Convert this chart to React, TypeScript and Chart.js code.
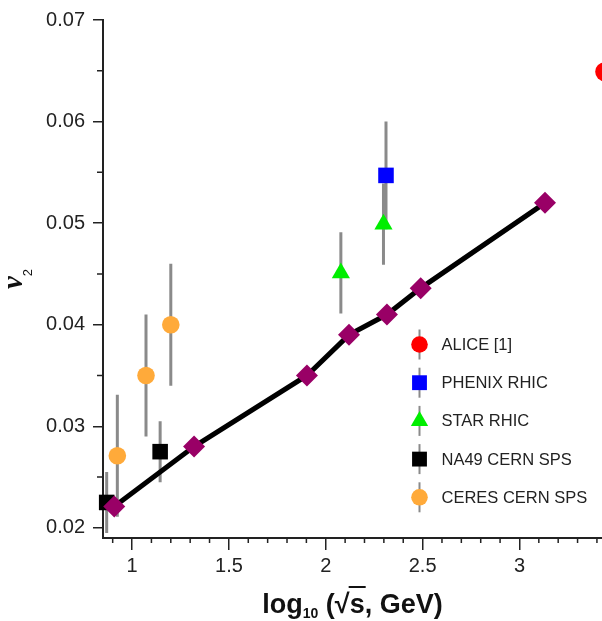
import React, { useEffect, useRef } from "react";
import { Chart, registerables } from "chart.js";

Chart.register(...registerables);

// ---- data ----
const theoryX = [0.908, 1.32, 1.903, 2.12, 2.316, 2.49, 3.132];
const theoryY = [0.0221, 0.028, 0.035, 0.039, 0.041, 0.0436, 0.052];

const aliceX = [3.44];
const aliceY = [0.0649];
const aliceErr = [0];

const phenixX = [2.311];
const phenixY = [0.0547];
const phenixErr = [0.0053];

const starX = [2.078, 2.298];
const starY = [0.0451, 0.0499];
const starErr = [0.004, 0.004];

const na49X = [0.869, 1.145];
const na49Y = [0.0225, 0.0275];
const na49Err = [0.003, 0.003];

const ceresX = [0.924, 1.072, 1.2];
const ceresY = [0.0271, 0.035, 0.04];
const ceresErr = [0.006, 0.006, 0.006];

const xTicks = [1, 1.5, 2, 2.5, 3];
const yTicks = [0.02, 0.03, 0.04, 0.05, 0.06, 0.07];
const xMinor = [0.9, 1.1, 1.2, 1.3, 1.4, 1.6, 1.7, 1.8, 1.9, 2.1, 2.2, 2.3, 2.4, 2.6, 2.7, 2.8, 2.9, 3.1, 3.2, 3.3, 3.4];
const yMinor = [0.025, 0.035, 0.045, 0.055, 0.065];

const legendLabels = ["ALICE [1]", "PHENIX RHIC", "STAR RHIC", "NA49 CERN SPS", "CERES CERN SPS"];

const FONT = "'Liberation Sans', Arial, Helvetica, sans-serif";
const ERR_COLOR = "#8a8a8a";

const toPts = (xs: number[], ys: number[]) => xs.map((x, i) => ({ x, y: ys[i] }));

type Series = { label: string; style: string; radius: number; color: string; xs: number[]; ys: number[]; errs: number[] };
const series: Series[] = [
  { label: legendLabels[0], style: "circle", radius: 9.5, color: "#ff0000", xs: aliceX, ys: aliceY, errs: aliceErr },
  { label: legendLabels[1], style: "rect", radius: 11, color: "#0000ff", xs: phenixX, ys: phenixY, errs: phenixErr },
  { label: legendLabels[2], style: "triangle", radius: 10.5, color: "#00ee00", xs: starX, ys: starY, errs: starErr },
  { label: legendLabels[3], style: "rect", radius: 11, color: "#000000", xs: na49X, ys: na49Y, errs: na49Err },
  { label: legendLabels[4], style: "circle", radius: 8.8, color: "#ffaa3a", xs: ceresX, ys: ceresY, errs: ceresErr },
];

function drawMarker(ctx: CanvasRenderingContext2D, style: string, x: number, y: number, r: number, color: string) {
  ctx.fillStyle = color;
  ctx.beginPath();
  if (style === "circle") {
    ctx.arc(x, y, r, 0, Math.PI * 2);
  } else if (style === "rect") {
    const s = Math.SQRT1_2 * r;
    ctx.rect(x - s, y - s, 2 * s, 2 * s);
  } else if (style === "triangle") {
    ctx.moveTo(x, y - r);
    ctx.lineTo(x + r * Math.sin(Math.PI / 3), y + r / 2);
    ctx.lineTo(x - r * Math.sin(Math.PI / 3), y + r / 2);
    ctx.closePath();
  }
  ctx.fill();
}

const errorBarPlugin = {
  id: "errorBars",
  beforeDatasetsDraw(chart: any) {
    const { ctx, chartArea, scales } = chart;
    const xs = scales.x;
    const ys = scales.y;
    ctx.save();
    ctx.beginPath();
    ctx.rect(chartArea.left, chartArea.top, chartArea.right - chartArea.left, chartArea.bottom - chartArea.top);
    ctx.clip();
    ctx.strokeStyle = ERR_COLOR;
    ctx.lineWidth = 3;
    series.forEach((s) => {
      s.xs.forEach((xv, i) => {
        const e = s.errs[i];
        if (!e) return;
        const px = xs.getPixelForValue(xv);
        ctx.beginPath();
        ctx.moveTo(px, ys.getPixelForValue(s.ys[i] + e));
        ctx.lineTo(px, ys.getPixelForValue(s.ys[i] - e));
        ctx.stroke();
      });
    });
    ctx.restore();
  },
};

const decorPlugin = {
  id: "decor",
  afterDraw(chart: any) {
    const { ctx, chartArea, scales } = chart;
    const xs = scales.x;
    const ys = scales.y;
    ctx.save();
    // minor ticks
    ctx.strokeStyle = "#222";
    ctx.lineWidth = 1.5;
    ctx.beginPath();
    yMinor.forEach((v) => {
      const py = ys.getPixelForValue(v);
      ctx.moveTo(chartArea.left - 6, py);
      ctx.lineTo(chartArea.left, py);
    });
    xMinor.forEach((v) => {
      const px = xs.getPixelForValue(v);
      ctx.moveTo(px, chartArea.bottom);
      ctx.lineTo(px, chartArea.bottom + 5);
    });
    ctx.stroke();

    // legend
    const lx = chartArea.left + 316.5;
    const ly0 = chartArea.top + 324.5;
    series.forEach((s, i) => {
      const cy = ly0 + i * 38.2;
      ctx.strokeStyle = ERR_COLOR;
      ctx.lineWidth = 2;
      ctx.beginPath();
      ctx.moveTo(lx, cy - 15);
      ctx.lineTo(lx, cy + 15);
      ctx.stroke();
      drawMarker(ctx, s.style, lx, cy, s.style === "circle" ? 8.3 : s.style === "rect" ? 10.5 : 10, s.color);
      ctx.fillStyle = "#222";
      ctx.font = `16.5px ${FONT}`;
      ctx.textBaseline = "middle";
      ctx.textAlign = "left";
      ctx.fillText(s.label, lx + 22, cy + 1);
    });

    // x title: log10 (√s, GeV)
    ctx.fillStyle = "#111";
    ctx.textBaseline = "alphabetic";
    ctx.textAlign = "left";
    const big = `bold 27px ${FONT}`;
    const small = `bold 14px ${FONT}`;
    ctx.font = big;
    const wLog = ctx.measureText("log").width;
    const wOpen = ctx.measureText(" (").width;
    const wRoot = ctx.measureText("√").width;
    const wS = ctx.measureText("s").width;
    const wRest = ctx.measureText(", GeV)").width;
    ctx.font = small;
    const wSub = ctx.measureText("10").width;
    const total = wLog + wSub + wOpen + wRoot + wS + wRest;
    const cx = (chartArea.left + 602) / 2;
    let tx = cx - total / 2;
    const base = 613;
    ctx.font = big;
    ctx.fillText("log", tx, base);
    tx += wLog;
    ctx.font = small;
    ctx.fillText("10", tx, base + 5);
    tx += wSub;
    ctx.font = big;
    ctx.fillText(" (", tx, base);
    tx += wOpen;
    ctx.fillText("√", tx, base);
    tx += wRoot;
    ctx.fillText("s", tx, base);
    ctx.strokeStyle = "#111";
    ctx.lineWidth = 2;
    ctx.beginPath();
    ctx.moveTo(tx - 1, base - 26);
    ctx.lineTo(tx + wS + 1, base - 26);
    ctx.stroke();
    tx += wS;
    ctx.fillText(", GeV)", tx, base);

    // y title: v2 rotated
    ctx.save();
    ctx.translate(17, (chartArea.top + chartArea.bottom) / 2);
    ctx.rotate(-Math.PI / 2);
    const vFont = `bold italic 29px 'Liberation Serif', 'Times New Roman', serif`;
    ctx.font = vFont;
    const wv = ctx.measureText("v").width;
    ctx.font = `13px ${FONT}`;
    const w2 = ctx.measureText("2").width;
    const start = -(wv + w2) / 2;
    ctx.font = vFont;
    ctx.fillText("v", start, 5);
    ctx.font = `13px ${FONT}`;
    ctx.fillText("2", start + wv, 15);
    ctx.restore();

    ctx.restore();
  },
};

export default function App() {
  const ref = useRef<HTMLCanvasElement | null>(null);

  useEffect(() => {
    const canvas = ref.current;
    if (!canvas) return;
    Chart.defaults.font.family = FONT;
    const datasets: any[] = [
      {
        label: "theory",
        data: toPts(theoryX, theoryY),
        showLine: true,
        borderColor: "#000",
        borderWidth: 5,
        tension: 0,
        pointStyle: "rectRot",
        pointRadius: 11,
        pointBackgroundColor: "#990066",
        pointBorderColor: "#990066",
        pointBorderWidth: 0,
        clip: false,
      },
      ...series.map((s) => ({
        label: s.label,
        data: toPts(s.xs, s.ys),
        showLine: false,
        pointStyle: s.style,
        pointRadius: s.radius,
        pointBackgroundColor: s.color,
        pointBorderColor: s.color,
        pointBorderWidth: 0,
        clip: false,
      })),
    ];
    const chart = new Chart(canvas, {
      type: "scatter",
      data: { datasets },
      options: {
        animation: false,
        responsive: false,
        events: [],
        layout: { padding: { top: 18, left: 0, right: 13.7, bottom: 0 } },
        plugins: { legend: { display: false }, tooltip: { enabled: false } },
        scales: {
          x: {
            type: "linear",
            min: 0.85,
            max: 3.5,
            afterFit: (scale: any) => {
              scale.height = 83;
            },
            afterBuildTicks: (scale: any) => {
              scale.ticks = xTicks.map((v) => ({ value: v }));
            },
            ticks: {
              color: "#222",
              font: { size: 20, family: FONT },
              padding: 4,
              maxRotation: 0,
              autoSkip: false,
              callback: (v: any) => String(v),
            },
            grid: { drawOnChartArea: false, drawTicks: true, tickLength: 12, color: "#222", lineWidth: 1.5 },
            border: { display: true, color: "#222", width: 2 },
          },
          y: {
            type: "linear",
            min: 0.019,
            max: 0.07,
            afterFit: (scale: any) => {
              scale.width = 103;
            },
            afterBuildTicks: (scale: any) => {
              scale.ticks = yTicks.map((v) => ({ value: v }));
            },
            ticks: {
              color: "#222",
              font: { size: 20, family: FONT },
              padding: 8,
              autoSkip: false,
              callback: (v: any) => Number(v).toFixed(2),
            },
            grid: { drawOnChartArea: false, drawTicks: true, tickLength: 10, color: "#222", lineWidth: 1.5 },
            border: { display: true, color: "#222", width: 2 },
          },
        },
      },
      plugins: [errorBarPlugin, decorPlugin],
    });
    return () => chart.destroy();
  }, []);

  return (
    <div style={{ position: "fixed", left: 0, top: 0, width: 602, height: 621, overflow: "hidden", background: "#fff" }}>
      <canvas ref={ref} width={630} height={621} style={{ display: "block" }} />
    </div>
  );
}
